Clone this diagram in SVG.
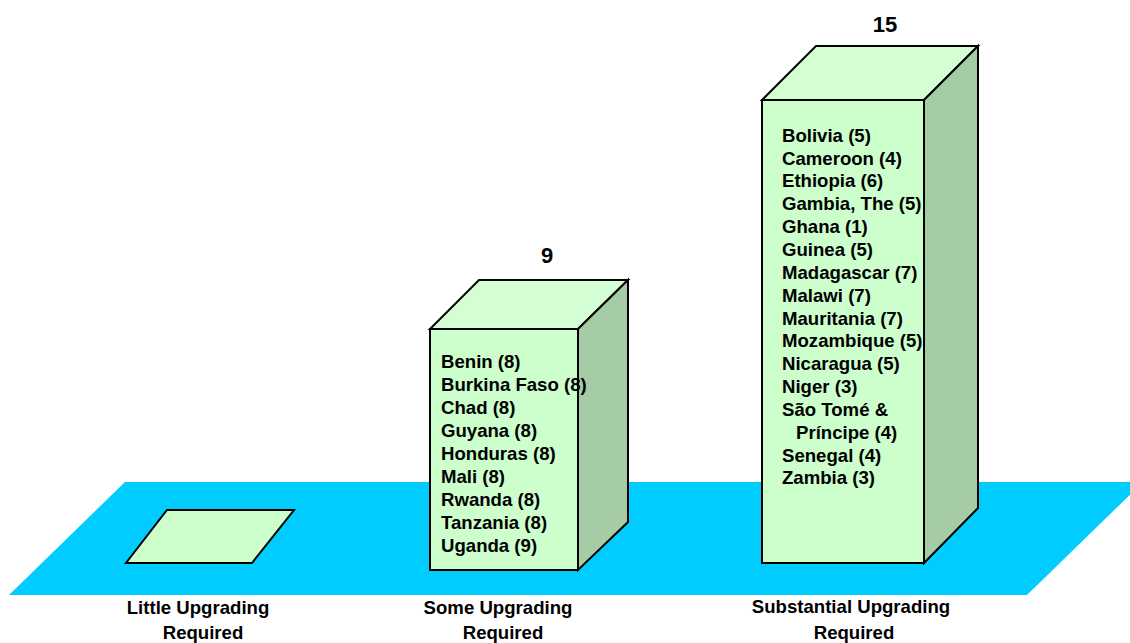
<svg xmlns="http://www.w3.org/2000/svg" width="1130" height="643" viewBox="0 0 1130 643">
<style>
.front{fill:#CCFFCC;stroke:#000;stroke-width:2;stroke-linejoin:miter}
.top{fill:#D4FFD4;stroke:#000;stroke-width:2}
.side{fill:#A6CCA6;stroke:#000;stroke-width:2}
.t{font-family:"Liberation Sans",Arial,sans-serif;font-weight:bold;font-size:18.6px;fill:#000}
.n{font-family:"Liberation Sans",Arial,sans-serif;font-weight:bold;font-size:22px;fill:#000}
.c{text-anchor:middle}
</style>
<rect width="1130" height="643" fill="#fff"/>
<g id="floor">
<polygon points="125,482 1143,482 1027,595 9,595" fill="#00CCFF"/>
</g>
<g id="bar-little">
<polygon class="front" points="167,510 294,510 252,563 126,563"/>
</g>
<g id="bar-some">
<polygon class="top" points="430,329 479,280 628,280 578,329"/>
<polygon class="side" points="578,329 628,280 628,522 578,570"/>
<rect class="front" x="430" y="329" width="148" height="241"/>
<text class="n c" x="547" y="263">9</text>
<g class="t">
<text x="441" y="368">Benin (8)</text>
<text x="441" y="391">Burkina Faso (8)</text>
<text x="441" y="414">Chad (8)</text>
<text x="441" y="437">Guyana (8)</text>
<text x="441" y="460">Honduras (8)</text>
<text x="441" y="483">Mali (8)</text>
<text x="441" y="506">Rwanda (8)</text>
<text x="441" y="529">Tanzania (8)</text>
<text x="441" y="552">Uganda (9)</text>
</g>
</g>
<g id="bar-substantial">
<polygon class="top" points="762,100 816,46 978,46 924,100"/>
<polygon class="side" points="924,100 978,46 978,508 924,563"/>
<rect class="front" x="762" y="100" width="162" height="463"/>
<text class="n c" x="885" y="32">15</text>
<g class="t">
<text x="782" y="141.7">Bolivia (5)</text>
<text x="782" y="164.5">Cameroon (4)</text>
<text x="782" y="187.4">Ethiopia (6)</text>
<text x="782" y="210.2">Gambia, The (5)</text>
<text x="782" y="233.1">Ghana (1)</text>
<text x="782" y="255.9">Guinea (5)</text>
<text x="782" y="278.8">Madagascar (7)</text>
<text x="782" y="301.6">Malawi (7)</text>
<text x="782" y="324.5">Mauritania (7)</text>
<text x="782" y="347.3">Mozambique (5)</text>
<text x="782" y="370.2">Nicaragua (5)</text>
<text x="782" y="393">Niger (3)</text>
<text x="782" y="415.9">São Tomé &amp;</text>
<text x="796" y="438.7">Príncipe (4)</text>
<text x="782" y="461.6">Senegal (4)</text>
<text x="782" y="484.4">Zambia (3)</text>
</g>
</g>
<g id="labels" class="t">
<text class="c" x="198" y="614">Little Upgrading</text>
<text class="c" x="203" y="639">Required</text>
<text class="c" x="498" y="614">Some Upgrading</text>
<text class="c" x="503" y="639">Required</text>
<text class="c" x="851" y="613">Substantial Upgrading</text>
<text class="c" x="854" y="639">Required</text>
</g>
<g id="connectors"></g>
</svg>
